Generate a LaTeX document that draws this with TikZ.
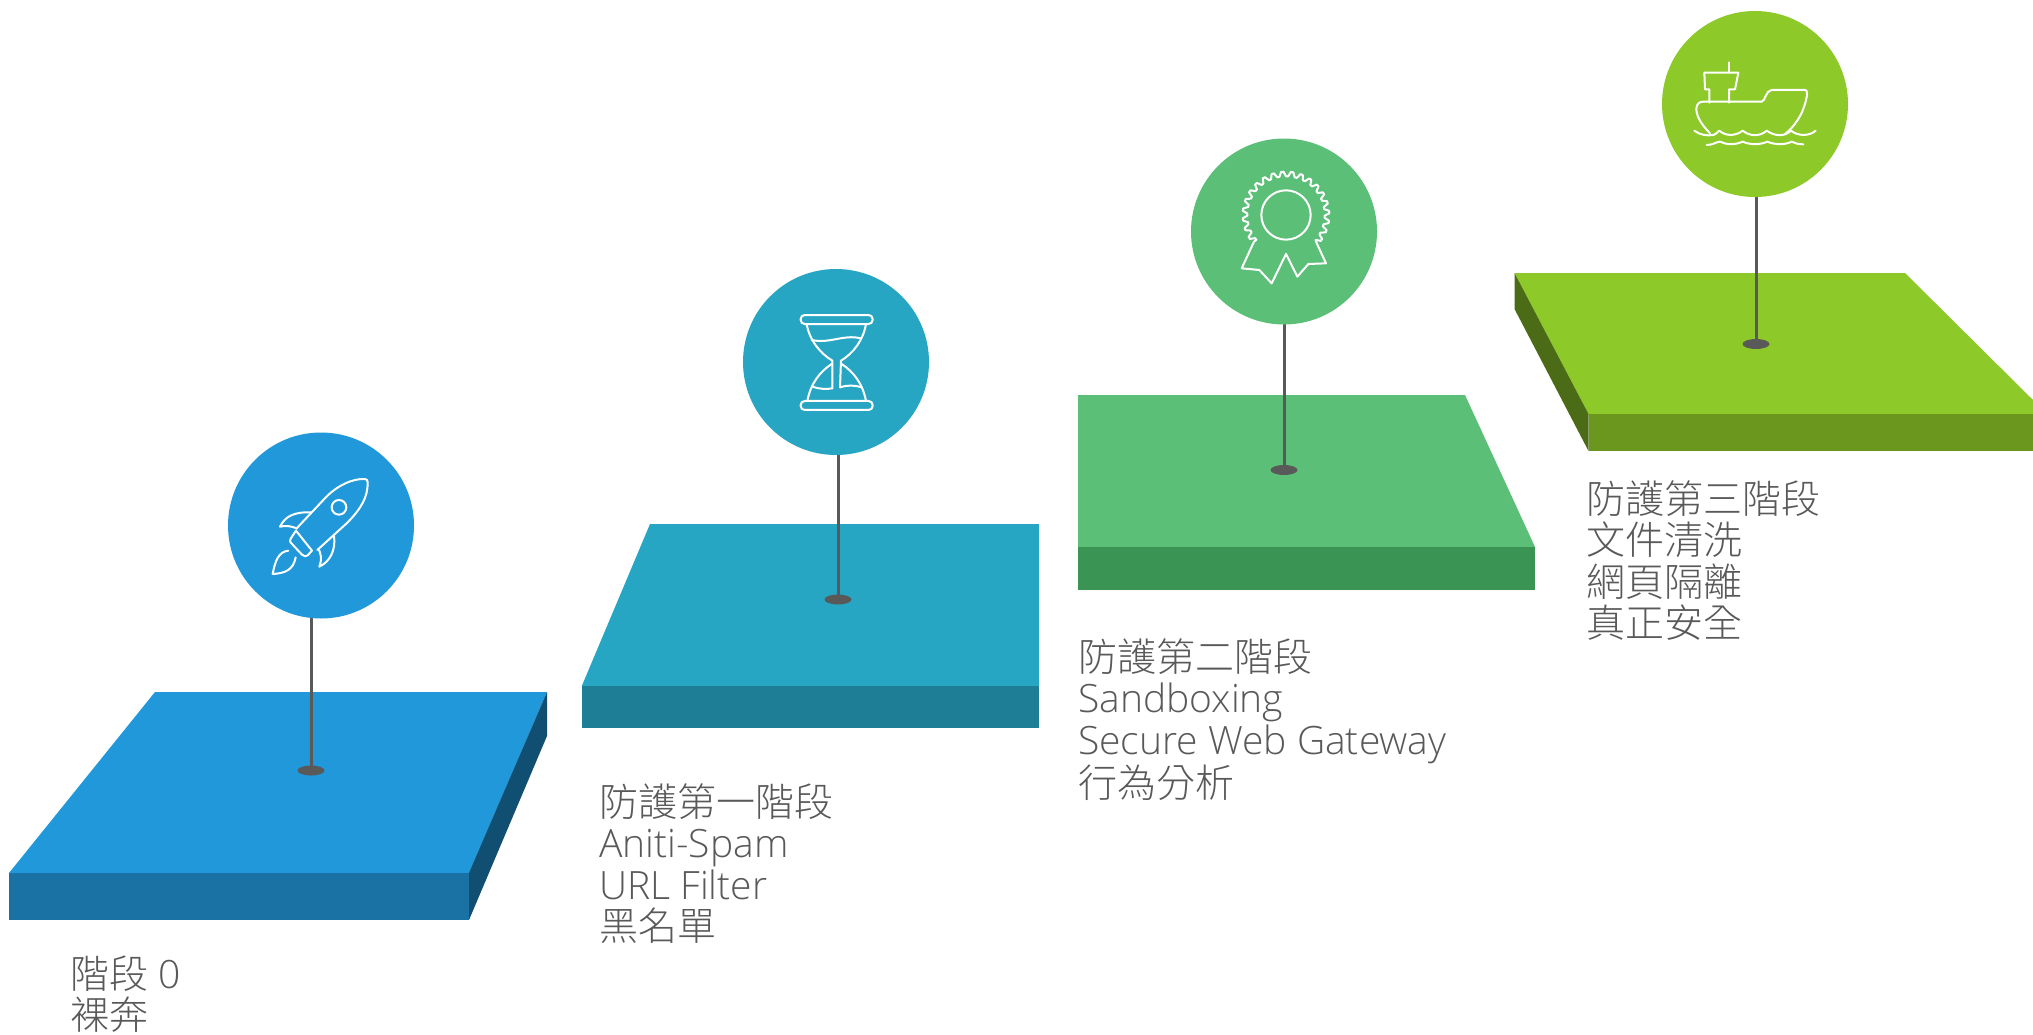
\documentclass[tikz,border=0pt]{standalone}
\usepackage{fontspec}
\usetikzlibrary{shapes.geometric,backgrounds}
\setmainfont{Open Sans Light}
\newfontfamily\cj{Noto Sans CJK TC Light}
\definecolor{blueT}{HTML}{2098D9}\definecolor{blueF}{HTML}{1972A3}\definecolor{blueS}{HTML}{104F72}
\definecolor{tealT}{HTML}{27A6C3}\definecolor{tealF}{HTML}{1D7E95}
\definecolor{greenT}{HTML}{5BBF77}\definecolor{greenF}{HTML}{3A9555}
\definecolor{limeT}{HTML}{8CC929}\definecolor{limeF}{HTML}{6B971F}\definecolor{limeS}{HTML}{4C6B16}
\definecolor{ink}{HTML}{595959}
\tikzset{
  x=1pt,y=-1pt,
  disc/.style={circle,inner sep=0pt,minimum size=186pt,fill=#1},
  pinbase/.style={ellipse,inner sep=0pt,minimum width=27pt,minimum height=10pt,fill=ink},
  pinline/.style={draw=ink,line width=3pt},
  label/.style={anchor=north west,inner sep=0pt,align=left,text=ink,font=\fontsize{39}{41.6}\selectfont},
  icon/.style={draw=white,line width=2pt,line cap=round,line join=round},
  zoomed/.style={x=0.3333pt,y=-0.3333pt}
}
\begin{document}
\begin{tikzpicture}
\useasboundingbox (0,0) rectangle (2033,1034);
\begin{scope}[on background layer]
  \fill[blueT] (155,692) -- (547,692) -- (469,874) -- (9,874) -- (9,873) -- cycle;
  \fill[blueF] (9,873) -- (469,873) -- (469,920) -- (9,920) -- cycle;
  \fill[blueS] (547,692) -- (547,736) -- (469,920) -- (469,873) -- cycle;
  \fill[tealT] (650,524) -- (1039,524) -- (1039,686.5) -- (582,686.5) -- (582,685.5) -- cycle;
  \fill[tealF] (582,685.5) -- (1039,685.5) -- (1039,728) -- (582,728) -- cycle;
  \fill[greenT] (1078,395) -- (1465,395) -- (1535,547) -- (1535,548) -- (1078,548) -- cycle;
  \fill[greenF] (1078,547) -- (1535,547) -- (1535,590) -- (1078,590) -- cycle;
  \fill[limeT] (1514.5,273) -- (1905,273) -- (2033,400) -- (2033,415) -- (1588.5,415) -- (1588.5,414) -- cycle;
  \fill[limeF] (1588.5,414) -- (2033,414) -- (2033,451) -- (1588.5,451) -- cycle;
  \fill[limeS] (1514.5,273) -- (1514.5,309) -- (1588.5,451) -- (1588.5,414) -- cycle;
\end{scope}
\node[disc=blueT] (c0) at (321,525.5) {};
\node[disc=tealT] (c1) at (836,362) {};
\node[disc=greenT] (c2) at (1284,231.5) {};
\node[disc=limeT] (c3) at (1755,104) {};
\node[pinbase] (b0) at (311,770.5) {};
\node[pinbase] (b1) at (838,599.5) {};
\node[pinbase] (b2) at (1284,470) {};
\node[pinbase] (b3) at (1756,344) {};
\begin{scope}[on background layer]
  \draw[pinline] (b0.center |- c0.center) -- (b0.center);
  \draw[pinline] (b1.center |- c1.center) -- (b1.center);
  \draw[pinline] (b2.center |- c2.center) -- (b2.center);
  \draw[pinline] (b3.center |- c3.center) -- (b3.center);
\end{scope}
% rocket
\begin{scope}[xshift=230pt,yshift=-430pt,zoomed]
  \draw[icon] (200,295) -- (280,210) .. controls (320,165) and (370,145) .. (405,147) .. controls (415,148) and (414,160) .. (412,175) .. controls (408,215) and (380,250) .. (350,280) -- (262,360);
  \draw[icon] (198,302) -- (182,326) .. controls (178,332) and (180,336) .. (184,340) -- (216,374) .. controls (222,380) and (228,380) .. (233,376) -- (246,362) -- cycle;
  \draw[icon] (245,247) .. controls (190,245) and (165,260) .. (150,290) .. controls (175,285) and (195,292) .. (200,296);
  \draw[icon] (312,318) .. controls (318,360) and (300,395) .. (268,410) .. controls (278,385) and (270,365) .. (266,358);
  \draw[icon] (175,362) .. controls (145,365) and (135,395) .. (128,432) .. controls (165,430) and (190,420) .. (197,382);
  \draw[icon] (327,232) circle[radius=22];
\end{scope}
% hourglass
\begin{scope}[xshift=740pt,yshift=-270pt,zoomed]
  \draw[icon,rounded corners=4pt] (182,135) rectangle (398,162);
  \draw[icon,rounded corners=4pt] (182,393) rectangle (398,420);
  \draw[icon] (200,162) .. controls (208,210) and (240,250) .. (277,272) -- (277,355);
  \draw[icon] (378,162) .. controls (370,210) and (340,250) .. (303,272) -- (300,352);
  \draw[icon] (275,282) .. controls (240,305) and (212,340) .. (202,393);
  \draw[icon] (305,282) .. controls (340,305) and (368,340) .. (378,393);
  \draw[icon] (215,210) .. controls (270,222) and (310,192) .. (362,205);
  \draw[icon] (218,350) .. controls (240,358) and (260,358) .. (277,355);
  \draw[icon] (300,352) .. controls (320,345) and (345,345) .. (365,352);
\end{scope}
% rosette
\begin{scope}[xshift=1190pt,yshift=-140pt,zoomed]
  \draw[icon] (192,305)
    \foreach \i [evaluate=\i as \a using {220-\i*3.25},evaluate=\i as \r using {int(mod(\i,4)/2)==0 ? 116 : 130}] in {0,...,80} { -- ({288+\r*cos(\a)},{225-\r*sin(\a)}) }
    -- (378,305) -- (408,370) -- (355,372) -- (322,410) -- (288,342) -- (245,430) -- (208,390) -- (155,385) -- cycle;
  \draw[icon] (288,225) circle[radius=74];
\end{scope}
% ship
\begin{scope}[xshift=1660pt,yshift=-10pt,zoomed]
  \draw[icon] (207,157) -- (207,188);
  \draw[icon] (148,278) -- (148,238) -- (135,238) -- (133,188) -- (235,188) -- (225,238) -- (207,238) -- (207,278);
  \draw[icon] (150,370) .. controls (120,340) and (105,310) .. (110,290) .. controls (112,280) and (120,275) .. (130,275) -- (305,275) .. controls (315,275) and (318,240) .. (335,240) -- (435,240) .. controls (442,240) and (442,250) .. (440,262) .. controls (432,300) and (415,340) .. (375,372);
  \draw[icon] (103,362) .. controls (120,375) and (140,378) .. (160,375) .. controls (170,372) and (175,362) .. (178,362) .. controls (195,378) and (225,380) .. (248,362) .. controls (270,380) and (300,380) .. (320,362) .. controls (345,380) and (375,380) .. (393,362) .. controls (415,380) and (450,378) .. (467,362);
  \draw[icon] (140,405) .. controls (160,405) and (170,395) .. (180,395) .. controls (200,405) and (225,405) .. (248,395) .. controls (270,405) and (300,405) .. (322,395) .. controls (345,405) and (375,405) .. (395,395) .. controls (405,400) and (415,403) .. (430,403);
\end{scope}
\node[label] (t0) at (70,955.5) {{\cj 階段} 0\\{\cj 裸奔}};
\node[label] (t1) at (599,783) {{\cj 防護第一階段}\\Aniti-Spam\\URL Filter\\{\cj 黑名單}};
\node[label] (t2) at (1078,638) {{\cj 防護第二階段}\\Sandboxing\\Secure Web Gateway\\{\cj 行為分析}};
\node[label] (t3) at (1586,480) {{\cj 防護第三階段}\\{\cj 文件清洗}\\{\cj 網頁隔離}\\{\cj 真正安全}};
\end{tikzpicture}
\end{document}
